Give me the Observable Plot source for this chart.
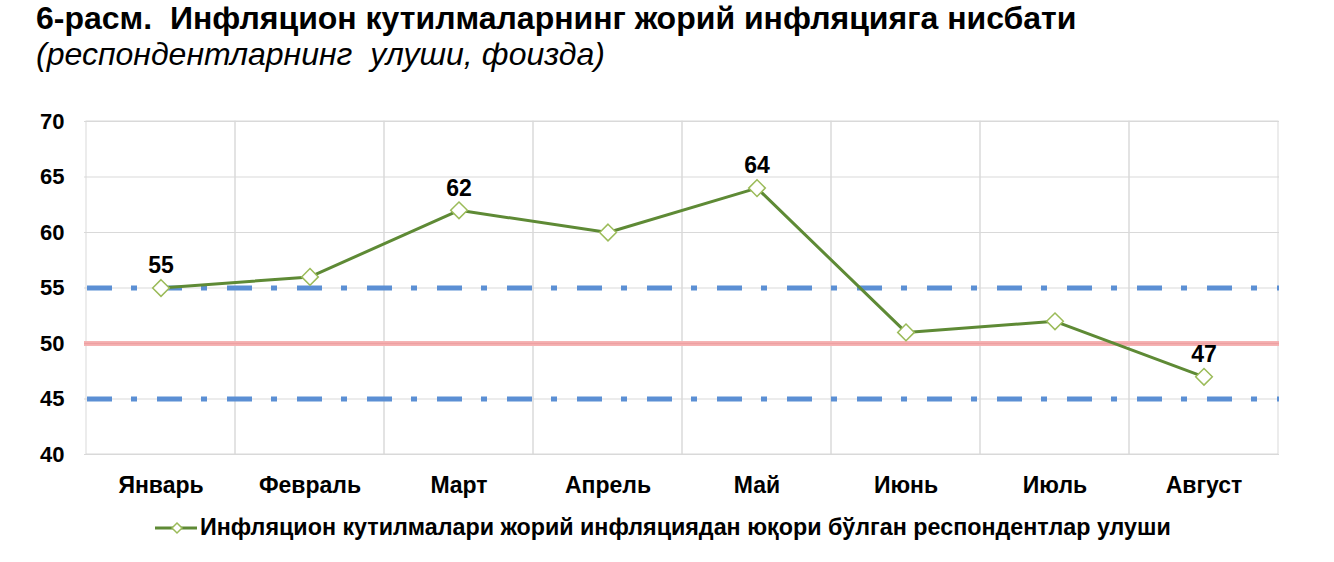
<!DOCTYPE html>
<html>
<head>
<meta charset="utf-8">
<script src="https://cdn.jsdelivr.net/npm/d3@7"></script>
<script src="https://cdn.jsdelivr.net/npm/@observablehq/plot@0.6"></script>
<style>
  body { margin: 0; background: #fff; font-family: "Liberation Sans", Arial, sans-serif; }
  #wrap { position: relative; width: 1334px; height: 562px; overflow: hidden; }
  #title { position: absolute; left: 36px; top: 3px; font-size: 32px; line-height: 30px; font-weight: bold; color: #000; white-space: pre; }
  #subtitle { position: absolute; left: 36px; top: 37px; font-size: 32px; line-height: 34px; font-style: italic; color: #000; white-space: pre; }
  #chart { position: absolute; left: 0; top: 95px; }
  #legend { position: absolute; left: 155px; top: 514px; display: flex; align-items: center; font-size: 23.3px; font-weight: bold; color: #000; white-space: pre; }
</style>
</head>
<body>
<div id="wrap">
  <div id="title">6-расм.  Инфляцион кутилмаларнинг жорий инфляцияга нисбати</div>
  <div id="subtitle">(респондентларнинг  улуши, фоизда)</div>
  <div id="chart"></div>
  <div id="legend"></div>
</div>
<script>
const months = ["Январь", "Февраль", "Март", "Апрель", "Май", "Июнь", "Июль", "Август"];
const shares = [55, 56, 62, 60, 64, 51, 52, 47];
const labelledMonths = ["Январь", "Март", "Май", "Август"];
const yTicks = [40, 45, 50, 55, 60, 65, 70];
const bandLines = [45, 55];
const currentLine = [50];
const seriesName = "Инфляцион кутилмалари жорий инфляциядан юқори бўлган респондентлар улуши";

const data = months.map((m, i) => ({month: m, value: shares[i]}));
const labelData = data.filter(d => labelledMonths.includes(d.month));

const green = "#5e8a35";
const markerGreen = "#9bbb59";
const blue = "#5b8fd4";
const pink = "#f5b3b3";
const pinkCore = "#eea0a2";
const grid = "#d9d9d9";

const chart = Plot.plot({
  width: 1334,
  height: 405,
  marginLeft: 84,
  marginRight: 55,
  marginTop: 26,
  marginBottom: 46,
  style: {fontFamily: "'Liberation Sans', Arial, sans-serif", background: "#fff"},
  x: {type: "band", domain: months, padding: 0, label: null},
  y: {domain: [40, 70], ticks: yTicks, label: null},
  marks: [
    Plot.cell(months, {x: d => d, fill: "none", stroke: grid, strokeWidth: 1, inset: 0}),
    Plot.ruleY(yTicks, {stroke: grid, strokeWidth: 1}),
    Plot.ruleY(currentLine, {stroke: pink, strokeWidth: 5}),
    Plot.ruleY(currentLine, {stroke: pinkCore, strokeWidth: 1.5}),
    Plot.ruleY(bandLines, {stroke: blue, strokeWidth: 5, strokeDasharray: "25,19,6,20", strokeDashoffset: -3}),
    Plot.line(data, {x: "month", y: "value", stroke: green, strokeWidth: 3}),
    Plot.dot(data, {x: "month", y: "value", symbol: "diamond2", r: 7.5, fill: "#fff", stroke: markerGreen, strokeWidth: 1.5}),
    Plot.text(labelData, {x: "month", y: "value", text: d => String(d.value), dy: -22, fontSize: 23, fontWeight: "bold", fill: "#000"}),
    Plot.axisY({ticks: yTicks, tickSize: 0, tickPadding: 20, fontSize: 22, fontWeight: "bold", fill: "#000"}),
    Plot.axisX({tickSize: 0, tickPadding: 22, fontSize: 23, fontWeight: "bold", fill: "#000"})
  ]
});
document.getElementById("chart").appendChild(chart);

// Legend
const leg = document.getElementById("legend");
const ns = "http://www.w3.org/2000/svg";
const ls = document.createElementNS(ns, "svg");
ls.setAttribute("width", 44); ls.setAttribute("height", 20);
ls.innerHTML = `<line x1="0" y1="10" x2="42" y2="10" stroke="${green}" stroke-width="3"/>
<path d="M22,5 L27,10 L22,15 L17,10 Z" fill="#fff" stroke="${markerGreen}" stroke-width="1.5"/>`;
leg.appendChild(ls);
const lt = document.createElement("span");
lt.textContent = seriesName;
lt.style.marginLeft = "1px";
leg.appendChild(lt);
</script>
</body>
</html>
